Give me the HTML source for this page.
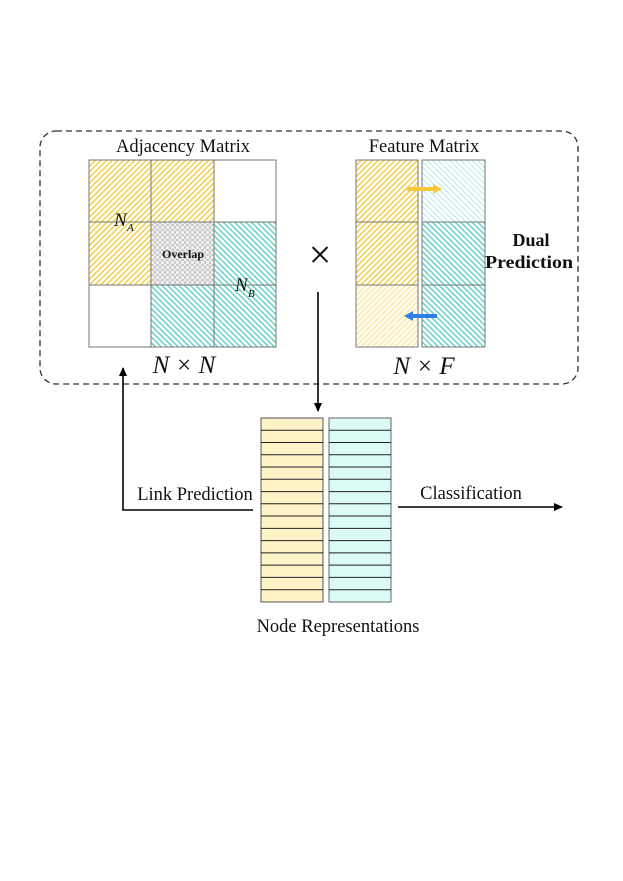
<!DOCTYPE html>
<html><head><style>
html,body{margin:0;padding:0;background:#fff;}
svg{display:block;}
text{font-family:"Liberation Serif",serif;fill:#111;}
</style></head><body>
<svg width="623" height="881" viewBox="0 0 623 881" xmlns="http://www.w3.org/2000/svg">
<defs>
<pattern id="yel" width="4" height="4" patternUnits="userSpaceOnUse" patternTransform="rotate(45)">
<rect width="4" height="4" fill="#fff"/><rect width="1.4" height="4" fill="#f2cd3c"/></pattern>
<pattern id="yelL" width="4" height="4" patternUnits="userSpaceOnUse" patternTransform="rotate(45)">
<rect width="4" height="4" fill="#fffdf0"/><rect width="1.1" height="4" fill="#f6e49a"/></pattern>
<pattern id="cy" width="4" height="4" patternUnits="userSpaceOnUse" patternTransform="rotate(-45)">
<rect width="4" height="4" fill="#fff"/><rect width="1.4" height="4" fill="#5fcfc0"/></pattern>
<pattern id="cyL" width="4" height="4" patternUnits="userSpaceOnUse" patternTransform="rotate(-45)">
<rect width="4" height="4" fill="#fff"/><rect width="1" height="4" fill="#b5e9e2"/></pattern>
<pattern id="gr" width="5" height="5" patternUnits="userSpaceOnUse">
<rect width="5" height="5" fill="#f4f4f4"/><circle cx="2.5" cy="2.5" r="2" fill="none" stroke="#bbb" stroke-width="0.8"/></pattern>
<marker id="ah" markerWidth="10" markerHeight="10" refX="8" refY="5" orient="auto" markerUnits="userSpaceOnUse">
<path d="M0,1 L9,5 L0,9 z" fill="#000"/></marker>
</defs>
<rect x="40" y="131" width="538" height="253" rx="16" fill="none" stroke="#333" stroke-width="1.3" stroke-dasharray="6,4"/>
<text x="183" y="152" font-size="18.5" text-anchor="middle">Adjacency Matrix</text>
<text x="424" y="152" font-size="18.5" text-anchor="middle">Feature Matrix</text>
<g stroke="#777" stroke-width="1">
<rect x="89" y="160" width="62" height="62" fill="url(#yel)"/>
<rect x="151" y="160" width="63" height="62" fill="url(#yel)"/>
<rect x="214" y="160" width="62" height="62" fill="#fff"/>
<rect x="89" y="222" width="62" height="63" fill="url(#yel)"/>
<rect x="151" y="222" width="63" height="63" fill="url(#gr)"/>
<rect x="214" y="222" width="62" height="63" fill="url(#cy)"/>
<rect x="89" y="285" width="62" height="62" fill="#fff"/>
<rect x="151" y="285" width="63" height="62" fill="url(#cy)"/>
<rect x="214" y="285" width="62" height="62" fill="url(#cy)"/>
</g>
<text x="183" y="258" font-size="12" font-weight="bold" text-anchor="middle">Overlap</text>
<text x="114" y="226" font-size="19" font-style="italic">N</text><text x="127" y="231" font-size="11" font-style="italic">A</text>
<text x="235" y="291" font-size="19" font-style="italic">N</text><text x="248" y="297" font-size="11" font-style="italic">B</text>
<text x="184" y="373" font-size="25" font-style="italic" text-anchor="middle">N × N</text>
<text x="320" y="268" font-size="40" text-anchor="middle">×</text>
<g stroke="#777" stroke-width="1">
<rect x="356" y="160" width="62" height="62" fill="url(#yel)"/>
<rect x="356" y="222" width="62" height="63" fill="url(#yel)"/>
<rect x="356" y="285" width="62" height="62" fill="url(#yelL)"/>
<rect x="422" y="160" width="63" height="62" fill="url(#cyL)"/>
<rect x="422" y="222" width="63" height="63" fill="url(#cy)"/>
<rect x="422" y="285" width="63" height="62" fill="url(#cy)"/>
</g>
<path d="M407,189 L434,189" stroke="#f6c836" stroke-width="4"/><path d="M433,184 L442,189 L433,194z" fill="#f6c836"/>
<path d="M437,316 L412,316" stroke="#2f7fe6" stroke-width="4"/><path d="M413,311 L404,316 L413,321z" fill="#2f7fe6"/>
<text x="531" y="246" font-size="18" font-weight="bold" text-anchor="middle">Dual</text>
<text x="529" y="268" font-size="18" font-weight="bold" text-anchor="middle" textLength="88" lengthAdjust="spacingAndGlyphs">Prediction</text>
<text x="424" y="374" font-size="25" font-style="italic" text-anchor="middle">N × F</text>
<path d="M318,292 L318,411" stroke="#000" stroke-width="1.6" marker-end="url(#ah)"/>
<path d="M253,510 L123,510 L123,368" fill="none" stroke="#000" stroke-width="1.6" marker-end="url(#ah)"/>
<path d="M398,507 L562,507" stroke="#000" stroke-width="1.6" marker-end="url(#ah)"/>
<text x="195" y="500" font-size="18.5" text-anchor="middle">Link Prediction</text>
<text x="471" y="499" font-size="18.5" text-anchor="middle">Classification</text>
<rect x="261" y="418" width="62" height="184" fill="#fdf3c6" stroke="#555" stroke-width="1"/>
<rect x="329" y="418" width="62" height="184" fill="#dcfaf6" stroke="#666" stroke-width="1"/>
<g stroke="#222" stroke-width="1">
<path d="M261,430.3H323M261,442.5H323M261,454.8H323M261,467H323M261,479.3H323M261,491.6H323M261,503.8H323M261,516H323M261,528.4H323M261,540.6H323M261,552.9H323M261,565.1H323M261,577.4H323M261,589.7H323"/>
<path d="M329,430.3H391M329,442.5H391M329,454.8H391M329,467H391M329,479.3H391M329,491.6H391M329,503.8H391M329,516H391M329,528.4H391M329,540.6H391M329,552.9H391M329,565.1H391M329,577.4H391M329,589.7H391"/>
</g>
<text x="338" y="632" font-size="18.5" text-anchor="middle">Node Representations</text>
</svg>
</body></html>
